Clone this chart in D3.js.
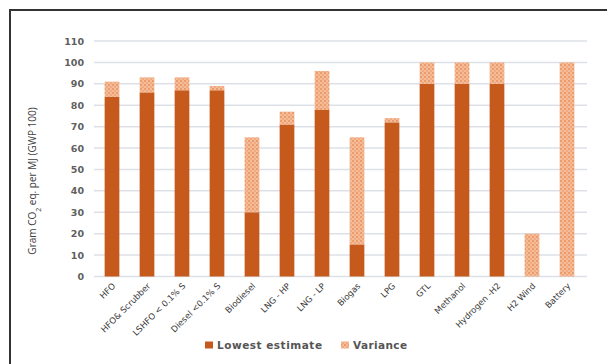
<!DOCTYPE html>
<html>
<head>
<meta charset="utf-8">
<script src="https://cdn.jsdelivr.net/npm/d3@7/dist/d3.min.js"></script>
<style>
  html, body { margin: 0; padding: 0; background: #fff; }
  svg { display: block; }
</style>
</head>
<body>
<script>
// Fuel types and greenhouse-gas intensity (g CO2 eq. per MJ, GWP 100)
const categories = ["HFO", "HFO& Scrubber", "LSHFO < 0.1% S", "Diesel  <0.1% S", "Biodiesel",
  "LNG - HP", "LNG - LP", "Biogas", "LPG", "GTL", "Methanol", "Hydrogen -H2", "H2 Wind", "Battery"];
const lowestEstimate = [84, 86, 87, 87, 30, 71, 78, 15, 72, 90, 90, 90, 0, 0];
const highestEstimate = [91, 93, 93, 89, 65, 77, 96, 65, 74, 100, 100, 100, 20, 100];
const yTicks = [0, 10, 20, 30, 40, 50, 60, 70, 80, 90, 100, 110];
const seriesNames = ["Lowest estimate", "Variance"];

const W = 607, H = 364;
const svg = d3.select("body").append("svg").attr("width", W).attr("height", H);

// dotted fill for the variance segment
const defs = svg.append("defs");
const pat = defs.append("pattern").attr("id", "varPat")
  .attr("width", 4).attr("height", 4).attr("patternUnits", "userSpaceOnUse");
pat.append("rect").attr("width", 4).attr("height", 4).attr("fill", "#f5bc98");
pat.append("rect").attr("x", 0).attr("y", 0).attr("width", 2).attr("height", 2).attr("fill", "#ec9c6c");
pat.append("rect").attr("x", 2).attr("y", 2).attr("width", 2).attr("height", 2).attr("fill", "#f0a980");

// frame
svg.append("path").attr("d", `M10,${H} L10,10 L${W},10`)
  .attr("fill", "none").attr("stroke", "#333").attr("stroke-width", 2);

const x = d3.scaleBand().domain(categories).range([94.5, 584.5]).paddingInner(0.58).paddingOuter(0.29);
const y = d3.scaleLinear().domain([0, 110]).range([276.5, 41]);

// gridlines
svg.append("g").selectAll("line").data(yTicks).join("line")
  .attr("x1", 94).attr("x2", 587)
  .attr("y1", d => y(d)).attr("y2", d => y(d))
  .attr("stroke", "#dde1e7").attr("stroke-width", 1.5);

// y axis labels
const yAxis = svg.append("g").attr("transform", "translate(84,0)")
  .call(d3.axisLeft(y).tickValues(yTicks).tickSize(0).tickPadding(0));
yAxis.select(".domain").remove();
yAxis.selectAll("text")
  .attr("font-family", "DejaVu Sans").attr("font-size", 9.5).attr("font-weight", "bold")
  .attr("fill", "#5f5f5f");

// y axis title
svg.append("text")
  .attr("transform", "translate(36,181) rotate(-90)")
  .attr("text-anchor", "middle")
  .attr("font-family", "Open Sans, sans-serif").attr("font-size", 10)
  .attr("fill", "#404040")
  .html('Gram CO<tspan baseline-shift="sub" font-size="7">2</tspan> eq. per MJ (GWP 100)');

// bars: lowest estimate
const bars = svg.append("g");
bars.selectAll("rect.low").data(categories).join("rect").attr("class", "low")
  .attr("x", d => x(d)).attr("width", x.bandwidth())
  .attr("y", (d, i) => y(lowestEstimate[i]))
  .attr("height", (d, i) => y(0) - y(lowestEstimate[i]))
  .attr("fill", "#c55a1c");

// bars: variance stacked on top
bars.selectAll("rect.var").data(categories).join("rect").attr("class", "var")
  .attr("x", d => x(d)).attr("width", x.bandwidth())
  .attr("y", (d, i) => y(highestEstimate[i]))
  .attr("height", (d, i) => y(lowestEstimate[i]) - y(highestEstimate[i]))
  .attr("fill", "url(#varPat)");

// x axis labels
const xAxis = svg.append("g").attr("transform", `translate(0,${y(0)})`)
  .call(d3.axisBottom(x).tickSize(0).tickPadding(0));
xAxis.select(".domain").remove();
xAxis.selectAll("text")
  .attr("font-family", "DejaVu Sans").attr("font-size", 8.5)
  .attr("fill", "#3a3a3a")
  .attr("text-anchor", "end")
  .attr("dy", 0)
  .attr("transform", "translate(4,10) rotate(-45)");

// legend
const legend = svg.append("g");
const legendItems = [
  { name: seriesNames[0], sx: 205, tx: 217, len: 105, fill: "#c55a1c" },
  { name: seriesNames[1], sx: 341, tx: 353, len: 54, fill: "url(#varPat)" }
];
legendItems.forEach(it => {
  legend.append("rect").attr("x", it.sx).attr("y", 341.5).attr("width", 8).attr("height", 7).attr("fill", it.fill);
  legend.append("text").attr("x", it.tx).attr("y", 349)
    .attr("font-family", "DejaVu Sans").attr("font-size", 10.5).attr("font-weight", "bold")
    .attr("fill", "#555")
    .attr("textLength", it.len).attr("lengthAdjust", "spacing")
    .text(it.name);
});
</script>
</body>
</html>
